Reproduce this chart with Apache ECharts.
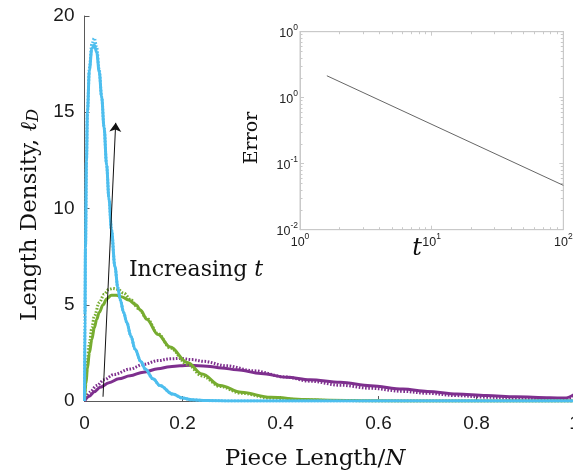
<!DOCTYPE html>
<html>
<head>
<meta charset="utf-8">
<script src="https://cdn.jsdelivr.net/npm/echarts@6/dist/echarts.min.js"></script>
<style>html,body{margin:0;padding:0;background:#fff;}#c{width:573px;height:474px;}</style>
</head>
<body>
<div id="c"></div>
<script>
// ---- main panel data (x = piece length / N, y = length density) ----
const cyanSolidX = [0, 0.001, 0.002, 0.004, 0.006, 0.01, 0.015, 0.02, 0.025, 0.03, 0.035, 0.04, 0.045, 0.05, 0.055, 0.062, 0.068, 0.073, 0.08, 0.086, 0.095, 0.103, 0.115, 0.124, 0.14, 0.154, 0.18, 0.2, 0.22, 0.25, 0.3, 0.5, 1.0];
const cyanSolidY = [0, 4.5, 8.0, 12.5, 15.0, 17.2, 18.3, 18.5, 18.1, 17.1, 15.8, 14.2, 12.3, 10.5, 8.9, 7.0, 5.9, 5.25, 4.6, 4.1, 3.35, 2.7, 2.05, 1.66, 1.15, 0.8, 0.36, 0.15, 0.06, 0.02, 0, 0, 0];
const cyanDotX = [0, 0.001, 0.002, 0.004, 0.006, 0.01, 0.015, 0.02, 0.025, 0.03, 0.035, 0.04, 0.045, 0.05, 0.055, 0.062, 0.068, 0.073, 0.08, 0.086, 0.095, 0.103, 0.115, 0.124, 0.14, 0.154, 0.18, 0.2, 0.22, 0.25, 0.3, 0.5, 1.0];
const cyanDotY = [0, 4.5, 8.0, 12.5, 15.0, 17.3, 18.55, 18.85, 18.35, 17.2, 15.8, 14.2, 12.3, 10.5, 8.9, 7.0, 5.9, 5.25, 4.6, 4.1, 3.35, 2.7, 2.05, 1.66, 1.15, 0.8, 0.36, 0.15, 0.06, 0.02, 0, 0, 0];

const greenSolidX = [0, 0.003, 0.006, 0.01, 0.015, 0.02, 0.025, 0.03, 0.038, 0.045, 0.055, 0.065, 0.075, 0.09, 0.105, 0.115, 0.127, 0.15, 0.175, 0.21, 0.24, 0.277, 0.32, 0.38, 0.45, 0.5, 0.6, 0.7, 1.0];
const greenSolidY = [0, 0.9, 1.7, 2.5, 3.2, 3.8, 4.25, 4.6, 5.0, 5.3, 5.5, 5.5, 5.42, 5.25, 5.0, 4.7, 4.25, 3.45, 2.8, 2.0, 1.4, 0.8, 0.45, 0.19, 0.08, 0.04, 0.01, 0, 0];
const greenDotX = [0, 0.003, 0.006, 0.01, 0.015, 0.02, 0.03, 0.04, 0.05, 0.058, 0.068, 0.08, 0.095, 0.11, 0.127, 0.15, 0.175, 0.21, 0.24, 0.277, 0.32, 0.38, 0.45, 0.5, 0.6, 0.7, 1.0];
const greenDotY = [0, 1.2, 2.1, 3.0, 3.8, 4.4, 5.1, 5.55, 5.8, 5.85, 5.8, 5.6, 5.25, 4.8, 4.3, 3.5, 2.75, 1.9, 1.3, 0.75, 0.4, 0.15, 0.06, 0.03, 0.005, 0, 0];

const purpleSolidX = [0, 0.01, 0.02, 0.032, 0.05, 0.07, 0.093, 0.12, 0.15, 0.174, 0.195, 0.215, 0.25, 0.28, 0.311, 0.36, 0.413, 0.46, 0.522, 0.584, 0.65, 0.7, 0.76, 0.82, 0.88, 0.95, 0.98, 1.0];
const purpleSolidY = [0, 0.25, 0.48, 0.71, 0.95, 1.15, 1.31, 1.5, 1.67, 1.78, 1.83, 1.86, 1.81, 1.72, 1.62, 1.43, 1.23, 1.1, 0.97, 0.79, 0.62, 0.5, 0.36, 0.28, 0.22, 0.17, 0.15, 0.35];
const purpleDotX = [0, 0.011, 0.025, 0.04, 0.06, 0.093, 0.12, 0.15, 0.174, 0.195, 0.22, 0.243, 0.29, 0.345, 0.41, 0.46, 0.522, 0.584, 0.65, 0.7, 0.76, 0.82, 0.88, 0.95, 0.98, 1.0];
const purpleDotY = [0, 0.46, 0.8, 1.1, 1.38, 1.66, 1.9, 2.1, 2.19, 2.21, 2.15, 2.06, 1.83, 1.57, 1.25, 1.03, 0.82, 0.66, 0.5, 0.4, 0.28, 0.2, 0.13, 0.09, 0.08, 0.25];

// arrow ("Increasing t"): start and end in data coordinates
const arrowFrom = [0.0378, 0.22];
const arrowTo = [0.0637, 14.45];

const mainXTicks = [0, 0.2, 0.4, 0.6, 0.8, 1];
const mainYTicks = [0, 5, 10, 15, 20];

// ---- inset data (error vs t, log-log) ----
const insetT = [1.6, 100];
const insetErr = [2.15, 0.047];
const insetXTickValues = [1, 10, 100];
const insetXTickExp = ['0', '1', '2'];
const insetYTickValues = [0.01, 0.1, 1, 10];
const insetYTickExp = ['-2', '-1', '0', '0'];

const CYAN = '#4DBEEE', GREEN = '#77AC30', PURPLE = '#7E2F8E';

function zip(xs, ys) { return xs.map((x, i) => [x, ys[i]]); }
function lookupExp(vals, exps, v) {
  for (let i = 0; i < vals.length; i++) {
    if (Math.abs(Math.log10(v) - Math.log10(vals[i])) < 1e-6) return '{b|10}{s|' + exps[i] + '}';
  }
  return '';
}
const supRich = {
  b: { fontSize: 12.5, fontFamily: 'Liberation Sans', color: '#222', lineHeight: 17, verticalAlign: 'bottom' },
  s: { fontSize: 8.5, fontFamily: 'Liberation Sans', color: '#222', lineHeight: 9, verticalAlign: 'top' }
};

function curve(name, xs, ys, color, dotted, z) {
  return {
    name: name, type: 'line', xAxisIndex: 0, yAxisIndex: 0,
    data: zip(xs, ys), showSymbol: false, symbol: 'none',
    smooth: 0.35, smoothMonotone: 'x', z: z, animation: false,
    lineStyle: { color: color, width: 3, type: dotted ? [1.6, 1.6] : 'solid', cap: 'butt' }
  };
}

const chart = echarts.init(document.getElementById('c'), null, { renderer: 'canvas' });
const mainAxisColor = '#5a5a5a';
const insetBoxColor = '#c9c9c9';

const option = {
  backgroundColor: '#fff',
  animation: false,
  grid: [
    { left: 84.5, top: 16, width: 490, height: 385, containLabel: false, outerBoundsMode: 'none' },
    { left: 300, top: 31.7, width: 263.3, height: 198, show: true, backgroundColor: '#fff', borderColor: insetBoxColor, borderWidth: 1, z: 5, containLabel: false, outerBoundsMode: 'none' }
  ],
  xAxis: [
    { type: 'value', gridIndex: 0, min: 0, max: 1, interval: 0.2,
      axisLine: { lineStyle: { color: mainAxisColor, width: 1 } },
      axisTick: { inside: true, length: 5, lineStyle: { color: mainAxisColor } },
      splitLine: { show: false },
      axisLabel: { margin: 13, fontSize: 19, fontFamily: 'Liberation Sans', color: '#1a1a1a',
        formatter: v => { const i = mainXTicks.findIndex(t => Math.abs(t - v) < 1e-9); return i < 0 ? '' : String(mainXTicks[i]); } } },
    { type: 'log', gridIndex: 1, min: 1, max: 100, logBase: 10, position: 'bottom', z: 6,
      axisLine: { lineStyle: { color: insetBoxColor } },
      axisTick: { inside: true, length: 4, lineStyle: { color: insetBoxColor } },
      minorTick: { show: true, splitNumber: 9, length: 2.5, lineStyle: { color: insetBoxColor } },
      splitLine: { show: false },
      axisLabel: { margin: 2, rich: supRich, formatter: v => lookupExp(insetXTickValues, insetXTickExp, v) } },
    { type: 'log', gridIndex: 1, min: 1, max: 100, logBase: 10, position: 'top', z: 6,
      axisLine: { lineStyle: { color: insetBoxColor } },
      axisTick: { inside: true, length: 4, lineStyle: { color: insetBoxColor } },
      minorTick: { show: true, splitNumber: 9, length: 2.5, lineStyle: { color: insetBoxColor } },
      splitLine: { show: false }, axisLabel: { show: false } }
  ],
  yAxis: [
    { type: 'value', gridIndex: 0, min: 0, max: 20, interval: 5,
      axisLine: { show: true, lineStyle: { color: mainAxisColor, width: 1 } },
      axisTick: { show: true, inside: true, length: 5, lineStyle: { color: mainAxisColor } },
      splitLine: { show: false },
      axisLabel: { margin: 10, fontSize: 19, fontFamily: 'Liberation Sans', color: '#1a1a1a',
        formatter: v => { const i = mainYTicks.indexOf(v); return i < 0 ? '' : String(mainYTicks[i]); } } },
    { type: 'log', gridIndex: 1, min: 0.01, max: 10, logBase: 10, position: 'left', z: 6,
      axisLine: { show: true, lineStyle: { color: insetBoxColor } },
      axisTick: { show: true, inside: true, length: 4, lineStyle: { color: insetBoxColor } },
      minorTick: { show: true, splitNumber: 9, length: 2.5, lineStyle: { color: insetBoxColor } },
      splitLine: { show: false },
      axisLabel: { margin: 2, rich: supRich, formatter: v => lookupExp(insetYTickValues, insetYTickExp, v) } },
    { type: 'log', gridIndex: 1, min: 0.01, max: 10, logBase: 10, position: 'right', z: 6,
      axisLine: { show: true, lineStyle: { color: insetBoxColor } },
      axisTick: { show: true, inside: true, length: 4, lineStyle: { color: insetBoxColor } },
      minorTick: { show: true, splitNumber: 9, length: 2.5, lineStyle: { color: insetBoxColor } },
      splitLine: { show: false }, axisLabel: { show: false } }
  ],
  series: [
    curve('purpleDot', purpleDotX, purpleDotY, PURPLE, true, 2),
    curve('purpleSolid', purpleSolidX, purpleSolidY, PURPLE, false, 3),
    curve('greenDot', greenDotX, greenDotY, GREEN, true, 4),
    curve('greenSolid', greenSolidX, greenSolidY, GREEN, false, 5),
    curve('cyanDot', cyanDotX, cyanDotY, CYAN, true, 6),
    curve('cyanSolid', cyanSolidX, cyanSolidY, CYAN, false, 7),
    { type: 'lines', coordinateSystem: 'cartesian2d', xAxisIndex: 0, yAxisIndex: 0, z: 8,
      symbol: ['none', 'arrow'], symbolSize: [0, 9],
      lineStyle: { color: '#111', width: 1, opacity: 1 },
      data: [{ coords: [arrowFrom, arrowTo] }] },
    { type: 'line', xAxisIndex: 1, yAxisIndex: 1, z: 10, data: zip(insetT, insetErr),
      showSymbol: false, symbol: 'none', lineStyle: { color: '#555', width: 0.9 } }
  ],
  graphic: [
    { type: 'text', x: 27, y: 215, rotation: Math.PI / 2, z: 20,
      style: { text: '{r|Length Density, }{i|ℓ}{d|D}', align: 'center', verticalAlign: 'middle',
        rich: {
          r: { fontFamily: 'DejaVu Serif', fontSize: 23, fill: '#111', lineHeight: 30, verticalAlign: 'bottom' },
          i: { fontFamily: 'DejaVu Serif', fontStyle: 'italic', fontSize: 23, fill: '#111', lineHeight: 30, verticalAlign: 'bottom' },
          d: { fontFamily: 'DejaVu Serif', fontStyle: 'italic', fontSize: 16, fill: '#111', lineHeight: 24, verticalAlign: 'bottom' }
        } } },
    { type: 'text', x: 315, y: 459, z: 20,
      style: { text: '{r|Piece Length/}{i|N}', align: 'center', verticalAlign: 'middle',
        rich: {
          r: { fontFamily: 'DejaVu Serif', fontSize: 23, fill: '#111' },
          i: { fontFamily: 'DejaVu Serif', fontStyle: 'italic', fontSize: 23, fill: '#111' }
        } } },
    { type: 'text', x: 196, y: 270, z: 20,
      style: { text: '{r|Increasing }{i|t}', align: 'center', verticalAlign: 'middle',
        rich: {
          r: { fontFamily: 'DejaVu Serif', fontSize: 22, fill: '#111' },
          i: { fontFamily: 'DejaVu Serif', fontStyle: 'italic', fontSize: 22, fill: '#111' }
        } } },
    { type: 'text', x: 252, y: 138, rotation: Math.PI / 2, z: 20,
      style: { text: 'Error', align: 'center', verticalAlign: 'middle',
        fontFamily: 'DejaVu Serif', fontSize: 19, fill: '#111' } },
    { type: 'text', x: 417, y: 249, z: 20,
      style: { text: 't', align: 'center', verticalAlign: 'middle',
        fontFamily: 'DejaVu Serif', fontStyle: 'italic', fontSize: 24, fill: '#111' } }
  ]
};
chart.setOption(option);
</script>
</body>
</html>
